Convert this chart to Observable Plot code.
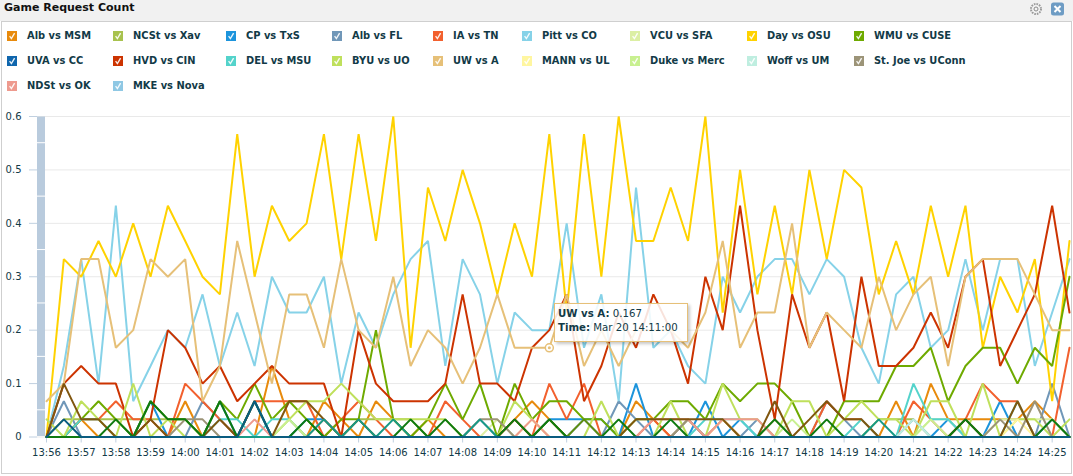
<!DOCTYPE html>
<html>
<head>
<meta charset="utf-8">
<script src="https://cdn.jsdelivr.net/npm/d3@7"></script>
<script src="https://cdn.jsdelivr.net/npm/@observablehq/plot@0.6"></script>
<style>
html,body{margin:0;padding:0;background:#fff;font-family:"DejaVu Sans",sans-serif;color:#123a47;overflow:hidden}
#page{position:relative;width:1073px;height:476px}
#head{position:absolute;left:0;top:0;width:1073px;height:21px;background:#f1f1f1}
#title{position:absolute;left:4px;top:1px;font:bold 11px/14px "DejaVu Sans",sans-serif;color:#111}
#panel{position:absolute;left:1px;top:21px;width:1069px;height:451px;border:1px solid #cfcfcf;box-sizing:content-box}
#legend{position:absolute;left:7px;top:29px;display:grid;grid-template-columns:106px 113px 106px 101px 89px 108px 117px 107px 200px;grid-auto-rows:25px;font:bold 9.9px/14px "DejaVu Sans",sans-serif;color:#123a47}
.item{display:flex;align-items:center;height:14px;white-space:nowrap}
.box{width:10px;height:10px;margin-right:10px;flex:none}
#chart{position:absolute;left:0;top:100px}
#tip{position:absolute;left:554px;top:303px;width:129px;border:1px solid #e6c078;background:rgba(255,255,255,.86);box-shadow:2px 2px 3px rgba(0,0,0,.22);font:10.2px/14px "DejaVu Sans",sans-serif;color:#123a47;padding:3px 0 0 3px;box-sizing:content-box;height:34px;white-space:nowrap}
#tools{position:absolute;left:1028px;top:2px}
</style>
</head>
<body>
<div id="page">
<div id="head"></div>
<div id="title"></div>
<div id="panel"></div>
<div id="legend"></div>
<div id="chart"></div>
<div id="tip"></div>
<svg id="tools" width="38" height="15" viewBox="0 0 38 15">
<circle cx="8" cy="7" r="5" fill="#f4f4f4" stroke="#9a9a9a" stroke-width="2" stroke-dasharray="1.6 1"/>
<circle cx="8" cy="7" r="2" fill="none" stroke="#8a8a8a"/>
<rect x="23" y="0.5" width="13" height="13" rx="2.5" fill="#6e9cc4"/>
<path d="M26.5 4L32.5 10M32.5 4L26.5 10" stroke="#fff" stroke-width="2"/>
</svg>
</div>
<script>
const chartTitle = "Game Request Count";
const tooltipSeries = "UW vs A";
const tooltipValue = 0.167;
const tooltipTime = "Mar 20 14:11:00";
const tooltipIndex = 29;

const seriesNames = ["Alb vs MSM","NCSt vs Xav","CP vs TxS","Alb vs FL","IA vs TN","Pitt vs CO","VCU vs SFA","Day vs OSU","WMU vs CUSE",
  "UVA vs CC","HVD vs CIN","DEL vs MSU","BYU vs UO","UW vs A","MANN vs UL","Duke vs Merc","Woff vs UM","St. Joe vs UConn",
  "NDSt vs OK","MKE vs Nova"];
const seriesColors = ["#e88a0c","#a8c24e","#1c94dc","#7097b8","#f2602e","#86d2e8","#dcefa4","#ffd200","#6eaa00",
  "#0f66ad","#cc3300","#54d3cb","#bfe05c","#e6c078","#fff6a0","#c8f090","#bfeee0","#9c9478",
  "#ee9a8e","#8fc8e4"];

const albMsm = [0,0,.033,0,0,0,0,0,.067,0, 0,0,0,.133,.033,0,.067,.033,0,.067,
  .033,0,.033,0,0,0,0,.033,.067,.033, 0,0,0,0,.067,.033,0,.033,0,.033,
  0,0,0,0,0,0,0,0,0,.067, 0,.1,.033,.033,.033,.033,.033,.067,.033,0];
const ncstXav = [0,.033,.033,.033,.033,.033,.033,.033,.033,0, 0,0,0,0,0,0,0,0,.033,.033,
  .033,.033,0,0,0,0,0,0,0,0, 0,0,0,0,0,0,0,0,0,0,
  0,0,0,0,0,0,0,0,.033,.033, .033,0,0,0,0,0,0,0,0,0];
const cpTxs = [0,0,0,0,0,0,.067,0,0,0, .067,0,.067,0,0,.033,.033,0,0,0,
  0,0,0,0,0,0,0,0,0,.033, .033,.033,.033,0,.1,0,0,0,.067,0,
  .033,0,0,0,0,0,0,0,0,0, 0,0,.033,0,0,.067,0,0,.033,0];
const albFl = [0,.067,0,0,0,0,0,0,0,.067, .033,0,.067,0,0,0,0,0,0,0,
  0,0,0,0,0,.033,0,0,0,0, 0,.033,0,.067,.033,0,0,.033,0,0,
  0,.033,0,0,0,.067,.033,0,0,0, .033,0,0,0,0,0,0,0,.1,0];
const iaTn = [0,0,.033,.033,.067,.033,.033,0,.1,.067, .033,0,.067,.067,.067,.067,0,.033,.067,.033,
  0,0,0,.067,.033,0,0,.033,0,.1, .033,.1,0,0,0,.033,0,0,0,.033,
  0,0,.033,0,0,.067,.033,.033,0,0, .067,.033,0,.033,.1,.067,.067,0,0,.167];
const pittCo = [0,.133,.333,.1,.433,.067,.133,.2,.167,.267, .133,.233,.133,.3,.233,.233,.3,.1,.233,.167,
  .267,.333,.367,.133,.333,.267,.1,.233,.2,.2, .4,.167,.267,.067,.467,.167,.2,.133,.1,.3,
  .233,.3,.333,.333,.267,.333,.3,.167,.1,.267, .3,.167,.2,.333,.2,.333,.333,.133,.233,.333];
const vcuSfa = [0,0,0,0,0,0,0,0,0,0, 0,0,0,0,.033,0,0,0,.033,0,
  0,0,0,0,0,0,.033,0,0,0, 0,0,0,0,0,0,0,0,0,.033,
  0,0,.033,0,0,0,0,0,0,0, 0,.033,.033,0,0,.033,.033,.033,.033,0];
const dayOsu = [0,.333,.3,.367,.3,.4,.3,.433,.367,.3, .267,.567,.3,.433,.367,.4,.567,.333,.567,.367,
  .6,.167,.467,.367,.5,.4,.267,.4,.3,.567, .233,.567,.3,.6,.367,.367,.467,.367,.6,.233,
  .5,.267,.433,.267,.5,.333,.5,.467,.267,.367, .267,.433,.3,.433,.167,.3,.233,.333,.067,.367];
const wmuCuse = [0,0,.033,.067,.033,0,.067,.033,.033,0, .067,.033,.1,.033,.067,.033,0,.033,.033,.2,
  .033,0,.033,.1,.033,.1,0,.1,.033,.067, .067,.033,.033,0,.033,.033,.067,.067,.033,.1,
  .067,.1,.1,.067,0,0,.067,.067,.067,.133, .133,.167,.067,.133,.167,.167,.1,.167,.133,.3];
const uvaCc = [0,.033,0,0,0,0,0,0,0,0, 0,0,.067,0,0,0,0,0,0,0,
  0,0,0,0,0,0,0,0,0,0, 0,0,0,0,0,0,0,0,0,0,
  0,0,0,0,0,0,0,0,0,0, 0,0,0,0,0,0,0,0,0,0];
const hvdCin = [0,.1,.133,.1,.1,0,.033,.2,.167,.1, .133,.067,.1,.133,.1,.1,.1,0,.2,.1,
  .067,.067,.067,.1,.267,.1,.1,.067,.167,.2, .267,.067,.133,.233,.167,.267,.2,.1,.3,.2,
  .433,.2,.033,.267,.167,.233,.067,.3,.133,.133, .167,.233,.167,.3,.333,.133,.2,.267,.433,.233];
const delMsu = [0,0,.033,.033,0,0,0,0,0,0, .033,.033,0,.033,.033,0,0,0,0,0,
  0,0,0,0,0,0,0,0,0,0, 0,0,0,0,0,0,0,0,.033,.033,
  .033,0,0,0,0,0,0,.033,0,0, .1,.033,.033,0,0,0,.067,0,0,0];
const byuUo = [.033,0,.067,.033,0,.1,0,.033,0,0, 0,0,0,0,.033,.067,.067,.1,.067,.033,
  .033,.033,.033,.033,0,0,0,.067,.033,0, 0,0,.067,0,0,0,.067,0,0,.1,
  .033,.033,0,.067,.067,0,.033,.067,.033,.033, 0,.067,.067,0,.1,0,.033,.033,0,.033];
const uwA = [.067,.1,.333,.333,.167,.2,.333,.3,.333,.067, .133,.367,.233,.1,.267,.267,.167,.333,.2,.167,
  .3,.133,.2,.167,.1,.167,.267,.167,.167,.167, .267,.133,.2,.133,.2,.2,.2,.167,.233,.367,
  .167,.233,.233,.4,.167,.233,.2,.167,.3,.2, .267,.3,.133,.3,.333,.333,.333,.267,.2,.2];
const mannUl = [0,0,0,0,0,0,0,0,0,0, 0,0,0,0,0,0,0,0,0,0,
  0,0,0,0,0,0,0,0,.033,0, 0,0,0,0,0,0,0,0,0,0,
  0,0,0,0,0,0,0,0,0,0, 0,0,0,0,0,0,.033,0,0,0];
const dukeMerc = [0,0,0,0,0,0,0,0,0,0, 0,0,0,0,.033,0,0,0,0,0,
  0,0,0,0,0,0,0,0,0,0, 0,0,0,0,0,0,0,0,0,0,
  0,0,0,.033,0,0,0,0,0,0, 0,.033,0,0,0,0,0,0,0,0];
const woffUm = [0,0,0,0,0,0,0,0,0,0, 0,0,0,0,0,0,0,0,0,0,
  0,0,0,0,0,0,0,0,0,0, 0,0,0,0,0,0,0,0,0,0,
  0,0,0,0,0,0,0,0,0,0, .033,0,0,0,0,0,0,0,0,0];
const stJoeUconn = [0,0,0,0,0,0,0,0,.033,.033, 0,0,0,0,0,0,0,0,0,0,
  0,0,0,0,0,.033,.033,0,0,0, 0,0,.0,0,0,0,0,.033,0,0,
  0,0,0,0,0,0,0,0,0,0, 0,0,0,.033,0,.033,0,.067,0,0];
const ndstOk = [0,0,0,0,0,0,0,0,0,0, 0,0,.033,0,0,0,.033,0,0,0,
  0,0,0,0,0,0,0,0,.033,0, 0,0,0,0,0,.033,.033,.033,0,.033,
  .033,.033,0,0,0,0,0,0,0,0, 0,0,0,0,0,0,0,0,0,0];
const mkeNova = [0,0,0,0,0,0,0,0,0,0, 0,0,0,0,0,0,0,0,0,0,
  0,0,0,0,0,0,0,0,0,0, 0,0,0,0,0,0,0,0,0,0,
  0,0,0,0,0,0,0,0,0,0, 0,0,0,0,0,0,0,0,0,0];

// dark tracks seen in the picture where several series stack up
const darkBrown = [0,.1,.033,.033,0,0,.033,0,0,0, .033,0,0,0,.067,.067,.033,0,.033,0,
  0,0,0,0,0,0,0,.033,0,0, 0,0,0,0,.033,.033,.033,.033,.033,.033,
  0,0,.067,0,.033,.067,.033,.033,0,0, 0,0,0,.033,0,0,.067,0,0,0];
const darkOlive = [0,0,0,0,0,0,0,0,0,0, 0,0,0,0,0,0,0,0,0,0,
  0,0,0,0,0,0,0,0,0,.033, 0,.033,0,0,0,0,0,0,0,0,
  0,0,0,0,0,0,0,0,0,0, 0,0,0,0,0,0,0,0,0,0];
const darkTeal = [0,0,0,0,0,0,0,0,0,0, 0,0,0,0,0,0,.033,0,.033,0,
  .033,0,0,0,0,.033,0,0,0,0, 0,0,0,0,0,0,0,0,0,0,
  0,0,0,0,0,0,0,0,.033,0, 0,0,0,0,0,0,0,0,0,0];
const darkGreen = [0,0,0,0,.033,0,.067,.033,.033,0, .067,0,.067,0,0,.033,0,0,0,0,
  0,.033,0,.033,0,0,0,.033,0,.033, 0,0,0,.033,0,0,.033,0,0,0,
  0,0,.033,0,0,.033,0,0,0,0, 0,0,0,.033,0,0,0,0,.033,0];

const seriesValues = [albMsm,ncstXav,cpTxs,albFl,iaTn,pittCo,vcuSfa,dayOsu,wmuCuse,uvaCc,hvdCin,delMsu,byuUo,uwA,mannUl,dukeMerc,woffUm,stJoeUconn,ndstOk,mkeNova];

const startMinute = Date.UTC(2013,2,20,13,56);
const stepMs = 30000;
const tickCount = 30;
const timeAt = i => new Date(startMinute + i*stepMs);
const minuteTicks = d3.range(tickCount).map(i => timeAt(i*2));
const yTicks = [0,.1,.2,.3,.4,.5,.6];
const barEdges = [0,.05,.15,.25,.35,.45,.55,.6];

document.getElementById("title").textContent = chartTitle;

const legend = document.getElementById("legend");
seriesNames.forEach((n,i)=>{
  const it = document.createElement("div"); it.className="item";
  it.innerHTML = `<svg class="box" viewBox="0 0 10 10"><rect width="10" height="10" fill="${seriesColors[i]}"/><path d="M2.6 5.2L4.4 7.6L7.6 2.2" fill="none" stroke="#fff" stroke-width="1.4" opacity=".9"/></svg><span>${n}</span>`;
  legend.appendChild(it);
});
document.getElementById("tip").innerHTML = `<b>${tooltipSeries}:</b> ${tooltipValue}<br><b>Time:</b> ${tooltipTime}`;

const draw = (arr,color) => Plot.line(arr.map((v,i)=>({t:timeAt(i),v})),{x:"t",y:"v",stroke:color,strokeWidth:2,strokeLinejoin:"miter"});

const order = [...seriesValues.keys()].filter(i=>i!==9);
const bands = d3.pairs(barEdges).map(([a,b])=>({a,b}));
const pxPerMs = 34.67/60000;
const x0 = new Date(startMinute - 9/pxPerMs);
const x1 = new Date(startMinute + 59*stepMs + 1/pxPerMs);
const barL = new Date(startMinute - 9/pxPerMs);
const barR = new Date(startMinute - 1/pxPerMs);

const plot = Plot.plot({
  width:1073,height:360,
  marginLeft:37,marginRight:3,marginTop:16,marginBottom:23.5,
  style:{fontFamily:'"DejaVu Sans",sans-serif',fontSize:"10px",background:"transparent",overflow:"visible"},
  x:{type:"utc",domain:[x0,x1],label:null},
  y:{domain:[0,.6],label:null},
  marks:[
    Plot.gridY(yTicks,{stroke:"#e9e9e9",strokeOpacity:1}),
    Plot.rect(bands,{x1:()=>barL,x2:()=>barR,y1:"a",y2:"b",fill:"#b9cbdd",insetTop:.5,insetBottom:.5}),
    Plot.axisY(yTicks,{anchor:"left",tickSize:8,tickPadding:8,tickFormat:d=>d===0?"0":d3.format(".1f")(d),stroke:"#c0d0e0",fill:"#123a47",label:null}),
    Plot.axisX(minuteTicks,{anchor:"bottom",tickSize:6,tickPadding:6,tickFormat:d3.utcFormat("%H:%M"),stroke:"#c0d0e0",fill:"#123a47",label:null}),
    ...order.map(i=>draw(seriesValues[i],seriesColors[i])),
    draw(darkBrown,"#80560f"),
    draw(darkOlive,"#5f8f10"),
    draw(darkTeal,"#179a86"),
    draw(darkGreen,"#0f7a10"),
    draw(uvaCc,"#0a5c80"),
    Plot.dot([{t:timeAt(tooltipIndex),v:tooltipValue}],{x:"t",y:"v",r:4,fill:"#fff",stroke:"#e6c078",strokeWidth:1.5}),
    Plot.dot([{t:timeAt(tooltipIndex),v:tooltipValue}],{x:"t",y:"v",r:1.5,fill:"#e6c078"})
  ]
});
document.getElementById("chart").appendChild(plot);
</script>
</body>
</html>
